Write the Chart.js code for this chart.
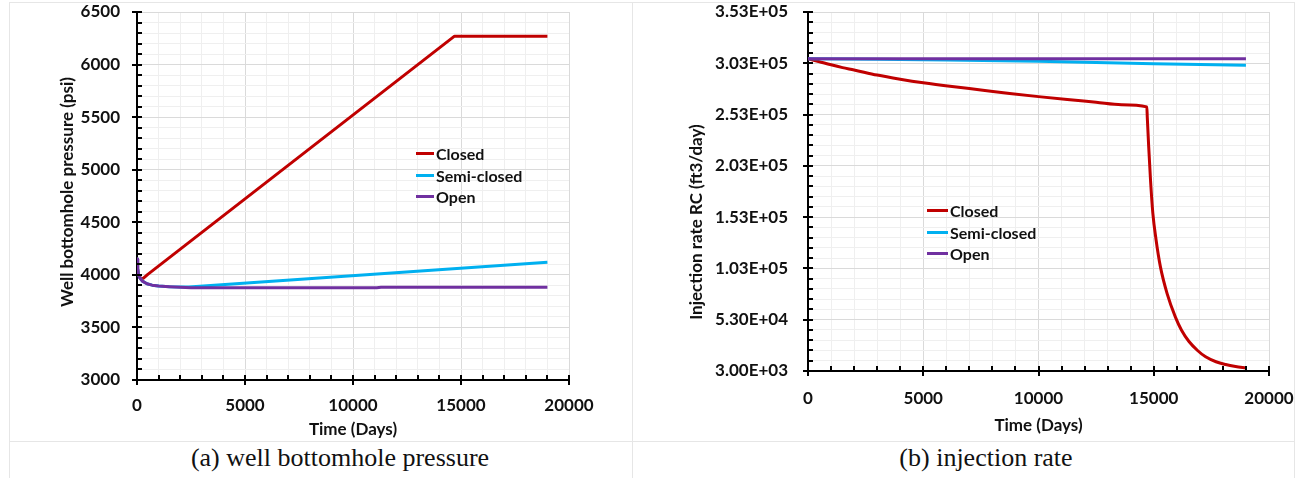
<!DOCTYPE html>
<html>
<head>
<meta charset="utf-8">
<script src="https://cdn.jsdelivr.net/npm/chart.js@4.4.1/dist/chart.umd.min.js"></script>
<style>
  body { margin: 0; background: #fff; width: 1304px; height: 478px; position: relative; overflow: hidden; }
  canvas { position: absolute; top: 0; }
  #bhpChart { left: 0; }
  #rateChart { left: 632px; }
  .legend { position: absolute; font: bold 16px Lato, sans-serif; color: #111; }
  .legend .row { display: flex; align-items: center; height: 21.5px; white-space: nowrap; }
  .legend .sw { display: inline-block; height: 3px; margin-right: 2px; }
  .cap { position: absolute; top: 443px; width: 400px; text-align: center; font: 26px "Liberation Serif", "Times New Roman", serif; color: #111; }
  .ln { position: absolute; background: #e6e6e6; }
</style>
</head>
<body>
<div class="ln" style="left:9px;top:2px;width:1286px;height:1px"></div>
<div class="ln" style="left:9px;top:441px;width:1286px;height:1px"></div>
<div class="ln" style="left:9px;top:2px;width:1px;height:476px"></div>
<div class="ln" style="left:632px;top:2px;width:1px;height:476px"></div>
<div class="ln" style="left:1294px;top:2px;width:1px;height:476px"></div>

<canvas id="bhpChart" width="632" height="440"></canvas>
<canvas id="rateChart" width="672" height="440"></canvas>
<div class="legend" id="bhpLegend" style="left:416px;top:143px"></div>
<div class="legend" id="rateLegend" style="left:927px;top:200px"></div>

<div class="cap" style="left:140px">(a) well bottomhole pressure</div>
<div class="cap" style="left:786px">(b) injection rate</div>

<script>
const seriesNames = ["Closed", "Semi-closed", "Open"];
const seriesColors = ["#c00000", "#00b0f0", "#7030a0"];

// (a) well bottomhole pressure (psi) vs time (days)
const bhpClosedT = [0, 30, 60, 120, 200, 300, 500, 14700, 19000];
const bhpClosed  = [4150, 4060, 4010, 3980, 3965, 3968, 4005, 6270, 6270];
const bhpSemiT = [0, 30, 60, 120, 250, 460, 700, 1000, 1500, 2000, 2400, 19000];
const bhpSemi  = [4150, 4060, 4010, 3975, 3940, 3915, 3902, 3893, 3887, 3885, 3885, 4120];
const bhpOpenT = [0, 30, 60, 120, 250, 460, 700, 1000, 1500, 2000, 2500, 11100, 11300, 19000];
const bhpOpen  = [4150, 4060, 4010, 3975, 3940, 3915, 3902, 3893, 3887, 3883, 3878, 3878, 3882, 3882];

// (b) injection rate RC (ft3/day) vs time (days)
const rateClosedT = [0, 500, 1000, 1500, 2000, 3000, 4000, 5000, 6250, 7500, 8750, 10000, 11250, 12500, 13600, 14700, 14720,
  14780, 14860, 14960, 15100, 15290, 15580, 15940, 16200, 16520, 16900, 17250, 17700, 18120, 18550, 19000];
const rateClosed  = [307500, 304500, 301500, 298800, 296500, 291500, 287500, 284000, 280300, 277000, 273600, 270500, 267600, 265000, 262600, 260500, 250000,
  222000, 189000, 157000, 131000, 104500, 78500, 55500, 43000, 32000, 23000, 16800, 12000, 9300, 7400, 6000];
const rateSemiT = [0, 3000, 6000, 10000, 13000, 15000, 19000];
const rateSemi  = [307500, 307000, 306200, 305000, 303600, 302600, 301000];
const rateOpenT = [0, 19000];
const rateOpen  = [307500, 307500];

Chart.defaults.font.family = "Lato, sans-serif";
Chart.defaults.color = "#111";

function pts(t, v) {
  return t.map((d, i) => ({ x: d, y: v[i] }));
}

function makeDatasets(list, smooth) {
  return list.map((s, i) => ({
    label: seriesNames[i],
    data: pts(s[0], s[1]),
    borderColor: seriesColors[i],
    borderWidth: 3,
    pointRadius: 0,
    fill: false,
    tension: 0,
    cubicInterpolationMode: smooth && i === 0 ? "monotone" : "default",
    borderJoinStyle: "round",
    order: 2 - i,
  }));
}

function sci(v) {
  v = Math.round(v);
  const e = Math.floor(Math.log10(v));
  const m = v / Math.pow(10, e);
  return m.toFixed(2) + "E+" + String(e).padStart(2, "0");
}

// tick marks: major ones cross the axis, minor ones sit inside
const axisTicks = {
  id: "axisTicks",
  afterDraw(chart, args, opts) {
    const { ctx, scales: { x, y } } = chart;
    ctx.save();
    ctx.strokeStyle = "#000";
    ctx.lineWidth = 2;
    ctx.beginPath();
    x.ticks.forEach(t => {
      const px = Math.round(x.getPixelForValue(t.value));
      const major = Math.round(t.value) % opts.xMajor === 0;
      ctx.moveTo(px, y.bottom - 5);
      ctx.lineTo(px, y.bottom + (major ? 5 : 0));
    });
    y.ticks.forEach(t => {
      const py = Math.round(y.getPixelForValue(t.value));
      const major = (Math.round(t.value) - opts.yBase) % opts.yMajor === 0;
      ctx.moveTo(x.left + 5, py);
      ctx.lineTo(x.left - (major ? 5 : 0), py);
    });
    ctx.stroke();
    ctx.restore();
  }
};

const yTitle = {
  id: "yTitle",
  afterDraw(chart, args, opts) {
    const { ctx } = chart;
    ctx.save();
    ctx.translate(opts.x, opts.y);
    ctx.rotate(-Math.PI / 2);
    ctx.font = "bold 17px Lato, sans-serif";
    ctx.fillStyle = "#111";
    ctx.textAlign = "center";
    ctx.textBaseline = "middle";
    ctx.fillText(opts.text, 0, 0);
    ctx.restore();
  }
};

function gridColor(base, major) {
  return c => {
    if (!c.tick) return "#efefef";
    return (Math.round(c.tick.value) - base) % major === 0 ? "#dadada" : "#efefef";
  };
}

function makeChart(id, datasets, o) {
  return new Chart(document.getElementById(id), {
    type: "line",
    data: { datasets },
    options: {
      responsive: false,
      animation: false,
      layout: { padding: { left: 0, top: o.padTop, right: o.padRight, bottom: 0 } },
      plugins: {
        legend: { display: false },
        tooltip: { enabled: false },
        axisTicks: { xMajor: 5000, yBase: o.yMin, yMajor: o.yMajor },
        yTitle: { text: o.yTitle, x: o.titleX, y: o.titleY },
      },
      scales: {
        x: {
          type: "linear", min: 0, max: 20000,
          afterFit: s => { s.height = o.xHeight; s.paddingLeft = 0; s.paddingRight = 0; },
          border: { color: "#000", width: 2 },
          grid: { color: gridColor(0, 5000), drawTicks: false },
          ticks: {
            stepSize: 1000, autoSkip: false, maxRotation: 0, padding: o.xPad,
            font: { size: 17, weight: "bold" },
            callback: v => (v % 5000 === 0 ? String(v) : ""),
          },
          title: {
            display: true, text: "Time (Days)",
            font: { size: 17, weight: "bold" },
            padding: { top: 0, bottom: o.xTitlePad },
          },
        },
        y: {
          type: "linear", min: o.yMin, max: o.yMax,
          afterFit: s => { s.width = o.yWidth; s.paddingTop = 0; s.paddingBottom = 0; },
          border: { color: "#000", width: 2 },
          grid: { color: gridColor(o.yMin, o.yMajor), drawTicks: false },
          ticks: {
            stepSize: o.yStep, autoSkip: false, padding: o.yPad,
            font: { size: 17, weight: "bold" },
            callback: v => ((Math.round(v) - o.yMin) % o.yMajor === 0 ? o.fmt(v) : ""),
          },
        },
      },
    },
    plugins: [axisTicks, yTitle],
  });
}

function buildLegend(chart, elId, swatchWidth) {
  const el = document.getElementById(elId);
  chart.data.datasets.forEach(ds => {
    const row = document.createElement("div");
    row.className = "row";
    const sw = document.createElement("span");
    sw.className = "sw";
    sw.style.width = swatchWidth + "px";
    sw.style.background = ds.borderColor;
    row.appendChild(sw);
    row.appendChild(document.createTextNode(ds.label));
    el.appendChild(row);
  });
}

const bhpChart = makeChart("bhpChart", makeDatasets([
  [bhpClosedT, bhpClosed], [bhpSemiT, bhpSemi], [bhpOpenT, bhpOpen]
], false), {
  padTop: 12, padRight: 63, yWidth: 137, xHeight: 60, xPad: 15, xTitlePad: 0, yPad: 17,
  yMin: 3000, yMax: 6500, yStep: 100, yMajor: 500, fmt: v => String(Math.round(v)),
  yTitle: "Well bottomhole pressure (psi)", titleX: 68, titleY: 192,
});
buildLegend(bhpChart, "bhpLegend", 18);

const rateChart = makeChart("rateChart", makeDatasets([
  [rateClosedT, rateClosed], [rateSemiT, rateSemi], [rateOpenT, rateOpen]
], true), {
  padTop: 12, padRight: 35, yWidth: 176, xHeight: 69, xPad: 17, xTitlePad: 4, yPad: 20,
  yMin: 3000, yMax: 353000, yStep: 10000, yMajor: 50000, fmt: sci,
  yTitle: "Injection rate RC (ft3/day)", titleX: 65, titleY: 222,
});
buildLegend(rateChart, "rateLegend", 21);
</script>
</body>
</html>
